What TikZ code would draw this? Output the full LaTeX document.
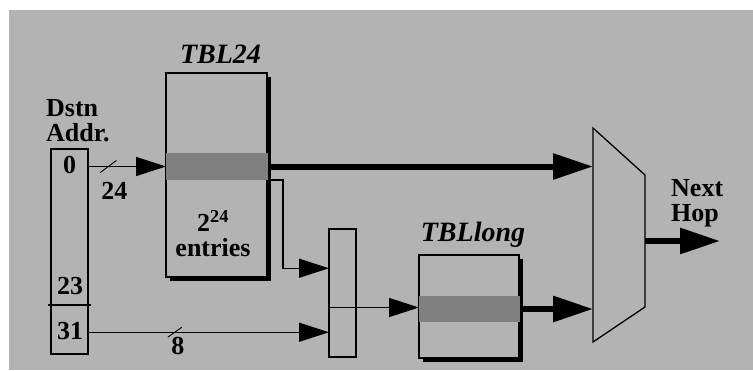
\documentclass[tikz,border=0pt]{standalone}
\usepackage{fontspec}
\setmainfont{Liberation Serif}
\usetikzlibrary{arrows.meta,positioning,shadows,calc}
\definecolor{panel}{RGB}{179,179,179}
\definecolor{slot}{RGB}{128,128,128}
\tikzset{
  wire/.style={line width=1.3pt},
  bus/.style={line width=6pt},
  thinhead/.style={-{Triangle[length=30pt,width=19pt]}},
  fathead/.style={-{Triangle[length=40pt,width=25pt]}},
  frame/.style={draw, line width=1.3pt, fill=panel, inner sep=0pt, outer sep=0pt},
  tblbox/.style={frame, drop shadow={shadow xshift=3.5pt, shadow yshift=-3.5pt, fill=black, opacity=1}},
  slotbar/.style={fill=slot, inner sep=0pt, outer sep=0pt},
  lbl/.style={font=\fontsize{26}{25}\selectfont\bfseries, inner sep=0pt},
  ttl/.style={font=\fontsize{28}{25}\selectfont\bfseries\itshape, inner sep=0pt},
  tick/.style={line width=0.9pt}
}
\begin{document}
\begin{tikzpicture}[x=1pt,y=-1pt]
  \useasboundingbox (0,0) rectangle (753,370);
  \fill[white] (0,0) rectangle (753,370);
  \fill[panel] (9,10) rectangle (753,370);
  % address register
  \node[frame, minimum width=37pt, minimum height=205pt] (addr) at (69.5,251.5) {};
  \draw[wire] (addr.west |- 0,305) ++(-3,0) -- ++(43,0);
  \node[lbl] (b0) at (69.5,165) {0};
  \node[lbl] (b23) at (70,286) {23};
  \node[lbl] (b31) at (70,331) {31};
  \node[lbl, anchor=north west, align=left] (dstn) at (46,99) {Dstn\\Addr.};
  % tables
  \node[tblbox, minimum width=101pt, minimum height=204pt] (tbl24) at (216.5,175) {};
  \node[slotbar, minimum width=102pt, minimum height=27pt] (slot24) at (217,166.5) {};
  \node[ttl, above=9pt of tbl24.north, xshift=4pt] (t24) {TBL24};
  \node[lbl, align=center, anchor=north] (ent) at (213,210) {2\textsuperscript{24}\\entries};
  \node[tblbox, minimum width=100pt, minimum height=103pt] (tbllong) at (469,306.5) {};
  \node[slotbar, minimum width=101pt, minimum height=26pt] (slotlong) at (469.5,309) {};
  \node[ttl, above=7pt of tbllong.north, xshift=4pt] (tlong) {TBLlong};
  % select box
  \node[frame, minimum width=27pt, minimum height=78.5pt] (selhi) at (342.5,268.25) {};
  \node[frame, minimum width=27pt, minimum height=49.5pt, below=0pt of selhi] (sello) {};
  % multiplexer
  \coordinate (muxnw) at (593,128);
  \coordinate (muxne) at (645,175);
  \coordinate (muxse) at (645,307);
  \coordinate (muxsw) at (593,342);
  \draw[wire, fill=panel] (muxnw) -- (muxne) -- (muxse) -- (muxsw) -- cycle;
  \coordinate (muxout) at ($(muxne)!0.5!(muxse)$);
  \coordinate (hop) at (720,241);
  \node[lbl, anchor=north west, align=left] (nh) at (671,179) {Next\\Hop};
  % connectors
  \draw[wire, thinhead] (addr.east |- slot24) -- coordinate[pos=0.26] (cut24) (slot24.west);
  \draw[tick] ($(cut24)+(-8,6)$) -- ($(cut24)+(8,-6)$);
  \node[lbl] (w24) at ($(cut24)+(6,24)$) {24};
  \draw[bus, fathead] (slot24.east) -- (slot24.east -| muxnw);
  \draw[wire, thinhead] (slot24.south east) -- ++(15,0) |- (selhi.west);
  \draw[wire, thinhead] (addr.east |- sello) -- coordinate[pos=0.36] (cut8) (sello.west);
  \draw[tick] ($(cut8)+(-7,5)$) -- ($(cut8)+(7,-5)$);
  \node[lbl] (w8) at ($(cut8)+(3,14)$) {8};
  \draw[wire, thinhead] (selhi.south east) -- (selhi.south east -| slotlong.west);
  \draw[bus, fathead] (slotlong.east) -- (slotlong.east -| muxsw);
  \draw[bus, fathead] (muxout) -- (hop);
\end{tikzpicture}
\end{document}
